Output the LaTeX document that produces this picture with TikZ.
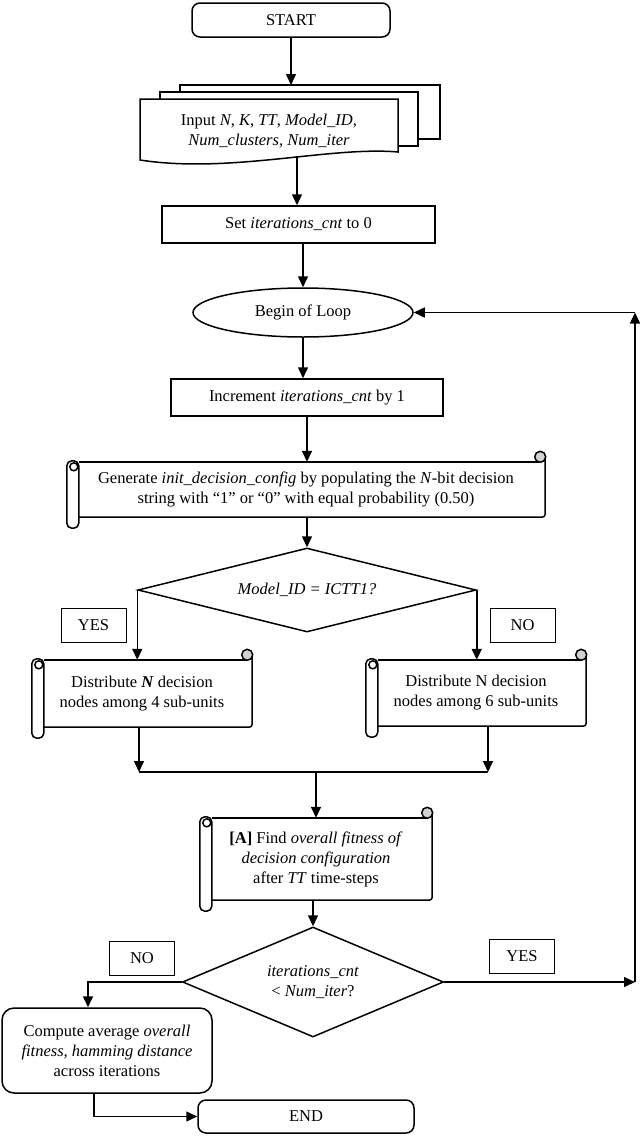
\documentclass[tikz,border=0pt]{standalone}
\usepackage{fontspec}
\setmainfont{Liberation Serif}
\usepackage{tikz}
\usetikzlibrary{shapes.geometric,arrows.meta,calc}
\def\drawscroll#1{
  \draw[boxline,rounded corners=3pt] ($(#1.north east)+(0,-5)$) -- (#1.south east) -- ($(#1.south west)+(12,0)$);
  \draw[boxline] ($(#1.north west)+(12,0)$) -- ($(#1.north east)+(-5,0)$);
  \draw[boxline,fill=gray!35] ($(#1.north east)+(-5,-5)$) circle (5.5pt);
  \draw[boxline,fill=white,rounded corners=5pt] ($(#1.north west)+(0,-1)$) rectangle ($(#1.south west)+(12,11)$);
  \draw[boxline] ($(#1.north west)+(7,5)$) circle (4pt)}
\tikzstyle{boxline}=[line width=1.5pt]
\tikzstyle{arr}=[boxline,-{Triangle[length=11pt,width=10pt]}]
\tikzstyle{proc}=[draw,boxline,rectangle,align=center,inner sep=0pt]
\tikzstyle{term}=[proc,rounded corners=8pt]
\tikzstyle{loopnode}=[draw,boxline,ellipse,inner sep=0pt]
\tikzstyle{decide}=[draw,boxline,diamond,align=center,inner sep=0pt]
\tikzstyle{scroll}=[rectangle,align=center,inner sep=0pt]
\tikzstyle{tag}=[draw,line width=1pt,rectangle,minimum width=65pt,minimum height=34pt,inner sep=0pt]
\begin{document}
\begin{tikzpicture}[x=1pt,y=-1pt,font=\fontsize{16.5pt}{20pt}\selectfont]
  \useasboundingbox (0,0) rectangle (640,1136);
  \node[term,minimum width=198pt,minimum height=34pt] (start) at (291,20) {START};
  % input sheets
  \draw[boxline,fill=white] (180,85) rectangle (440,139);
  \draw[boxline,fill=white] (160,92) rectangle (418,146);
  \draw[boxline,fill=white] (140,99) -- (398,99) -- (398,152) .. controls (330,146) and (230,174) .. (140,160) -- cycle;
  \node[align=center] (input) at (269,131) {Input \textit{N}, \textit{K}, \textit{TT}, \textit{Model\_ID},\\\textit{Num\_clusters}, \textit{Num\_iter}};
  \coordinate (inTop) at (291,85);
  \coordinate (inBot) at (297,156);
  \node[proc,minimum width=273pt,minimum height=37pt] (set) at (298.5,224.5) {Set \textit{iterations\_cnt} to 0};
  \node[loopnode,minimum width=220pt,minimum height=49pt] (loop) at (303,312.5) {Begin of Loop};
  \node[proc,minimum width=272pt,minimum height=37pt] (incr) at (307,397.5) {Increment \textit{iterations\_cnt} by 1};
  \node[scroll,minimum width=478pt,minimum height=55pt] (gen) at (306,489.5) {Generate \textit{init\_decision\_config} by populating the \textit{N}-bit decision\\string with “1” or “0” with equal probability (0.50)};
  \node[decide,aspect=4,minimum width=338pt,minimum height=84pt] (model) at (307,590) {\textit{Model\_ID = ICTT1?}};
  \node[tag] (yes1) at (93.5,625) {YES};
  \node[tag] (no1) at (522.5,625) {NO};
  \node[scroll,minimum width=220pt,minimum height=67pt] (dist4) at (142,693.5) {Distribute \textbf{\textit{N}} decision\\nodes among 4 sub-units};
  \node[scroll,minimum width=220pt,minimum height=66pt] (dist6) at (476,693) {Distribute N decision\\nodes among 6 sub-units};
  \coordinate (mergeL) at (139,772);
  \coordinate (mergeR) at (488,772);
  \node[scroll,minimum width=232pt,minimum height=82pt] (find) at (316,859) {\textbf{[A]} Find \textit{overall fitness of}\\\textit{decision configuration}\\after \textit{TT} time-steps};
  \node[decide,aspect=2.4,minimum width=261pt,minimum height=110pt] (again) at (313,982) {\textit{iterations\_cnt}\\< \textit{Num\_iter}?};
  \node[tag] (no2) at (142,958) {NO};
  \node[tag] (yes2) at (522,956) {YES};
  \node[term,rounded corners=12pt,minimum width=210pt,minimum height=85pt] (avg) at (107,1050.5) {Compute average \textit{overall}\\\textit{fitness, hamming distance}\\across iterations};
  \node[term,minimum width=216pt,minimum height=33pt] (stop) at (306,1116.5) {END};
  \coordinate (noTurn) at (88,982);
  \coordinate (endTurn) at (94,1116.5);
  \coordinate (backLow) at (635,982);
  \coordinate (backHigh) at (635,312.5);
  \drawscroll{gen};
  \drawscroll{dist4};
  \drawscroll{dist6};
  \drawscroll{find};
  % connectors
  \draw[arr] (start) -- (inTop);
  \draw[arr] (inBot) -- (inBot |- set.north);
  \draw[arr] (set.south -| loop) -- (loop.north);
  \draw[arr] (loop.south) -- (loop.south |- incr.north);
  \draw[arr] (incr.south) -- (incr.south |- gen.north);
  \draw[arr] (gen.south -| model) -- (model.north);
  \draw[arr] (model.west) -- (model.west |- dist4.north);
  \draw[arr] (model.east) -- (model.east |- dist6.north);
  \draw[arr] (dist4.south -| mergeL) -- (mergeL);
  \draw[arr] (dist6.south -| mergeR) -- (mergeR);
  \draw[boxline] (mergeL) -- (mergeR);
  \draw[arr] (mergeL -| find) -- (find.north);
  \draw[arr] (find.south -| again) -- (again.north);
  \draw[arr] (again.west) -- (noTurn) -- (noTurn |- avg.north);
  \draw[arr] (avg.south -| endTurn) -- (endTurn) -- (stop.west);
  \draw[arr] (again.east) -- (backLow);
  \draw[arr] (backLow) -- (backHigh);
  \draw[arr] (backHigh) -- (loop.east);
\end{tikzpicture}
\end{document}
